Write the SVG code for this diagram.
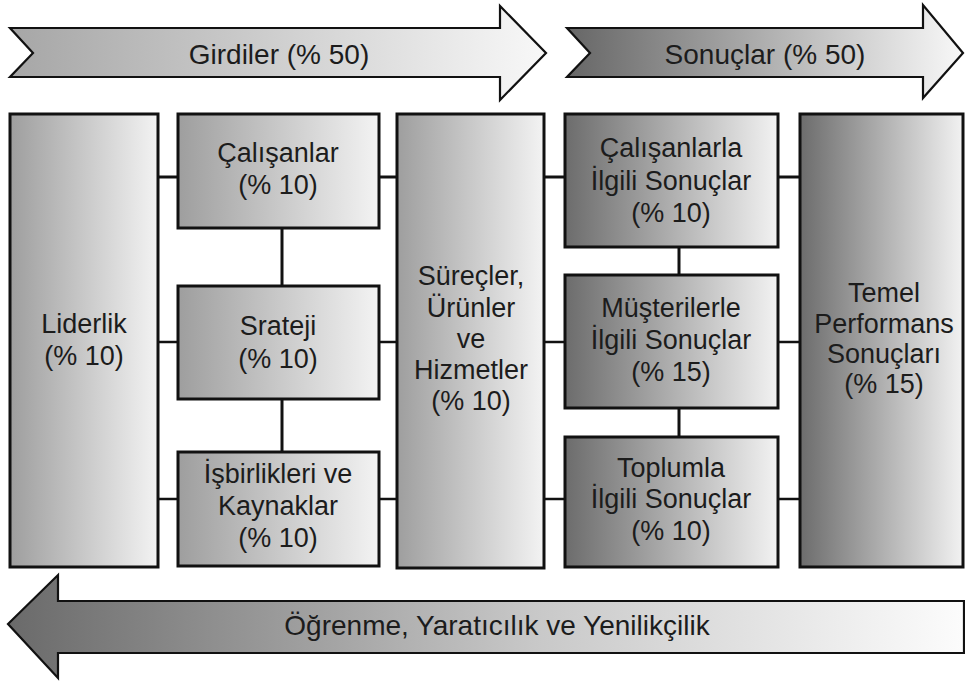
<svg xmlns="http://www.w3.org/2000/svg" width="965" height="683" viewBox="0 0 965 683">
<defs>
<linearGradient id="gLight" x1="0" y1="0" x2="1" y2="0">
<stop offset="0" stop-color="#9e9e9e"/>
<stop offset="1" stop-color="#f3f3f3"/>
</linearGradient>
<linearGradient id="gDark" x1="0" y1="0" x2="1" y2="0">
<stop offset="0" stop-color="#6c6c6c"/>
<stop offset="1" stop-color="#f2f2f2"/>
</linearGradient>
<linearGradient id="gArrowIn" x1="0" y1="0" x2="1" y2="0">
<stop offset="0" stop-color="#a6a6a6"/>
<stop offset="1" stop-color="#f8f8f8"/>
</linearGradient>
<linearGradient id="gArrowOut" x1="0" y1="0" x2="1" y2="0">
<stop offset="0" stop-color="#666666"/>
<stop offset="1" stop-color="#f8f8f8"/>
</linearGradient>
<linearGradient id="gArrowBack" x1="0" y1="0" x2="1" y2="0">
<stop offset="0" stop-color="#6a6a6a"/>
<stop offset="0.55" stop-color="#c8c8c8"/>
<stop offset="1" stop-color="#fcfcfc"/>
</linearGradient>
</defs>
<style>
.box{stroke:#111;stroke-width:3}
.arr{stroke:#111;stroke-width:2.2;stroke-linejoin:miter}
.t{font-family:"Liberation Sans",Arial,sans-serif;font-size:27px;fill:#1c1c1c;text-anchor:middle}
.ta{font-family:"Liberation Sans",Arial,sans-serif;font-size:28px;fill:#1c1c1c;text-anchor:middle}
.c{stroke:#111;stroke-width:3;fill:none}
.c2{stroke:#111;stroke-width:2.5;fill:none}
</style>
<rect width="965" height="683" fill="#ffffff"/>

<g id="arrow-girdiler">
<path class="arr" fill="url(#gArrowIn)" d="M10,28 L500,28 L500,6 L546,53 L500,100 L500,77 L10,77 L33,53 Z"/>
<text class="ta" x="279" y="64">Girdiler (% 50)</text>
</g>
<g id="arrow-sonuclar">
<path class="arr" fill="url(#gArrowOut)" d="M567,28 L923,28 L923,5 L963,53 L923,98 L923,77 L567,77 L590,53 Z"/>
<text class="ta" x="765" y="64">Sonuçlar (% 50)</text>
</g>
<g id="arrow-ogrenme">
<path class="arr" fill="url(#gArrowBack)" d="M8,624 L58,575 L58,601 L964,601 L964,653 L58,653 L58,678 Z"/>
<text class="ta" x="497" y="635">Öğrenme, Yaratıcılık ve Yenilikçilik</text>
</g>

<g id="connectors">
<line class="c" x1="158" y1="177" x2="178" y2="177"/>
<line class="c2" x1="158" y1="342" x2="178" y2="342"/>
<line class="c2" x1="158" y1="499" x2="178" y2="499"/>
<line class="c" x1="282" y1="228" x2="282" y2="286"/>
<line class="c" x1="282" y1="399" x2="282" y2="452"/>
<line class="c" x1="379" y1="177" x2="397" y2="177"/>
<line class="c2" x1="379" y1="342" x2="397" y2="342"/>
<line class="c2" x1="379" y1="499" x2="397" y2="499"/>
<line class="c" x1="544" y1="177" x2="565" y2="177"/>
<line class="c2" x1="544" y1="342" x2="565" y2="342"/>
<line class="c2" x1="544" y1="499" x2="565" y2="499"/>
<line class="c" x1="679" y1="247" x2="679" y2="274"/>
<line class="c" x1="679" y1="408" x2="679" y2="437"/>
<line class="c" x1="778" y1="177" x2="800" y2="177"/>
<line class="c2" x1="778" y1="342" x2="800" y2="342"/>
<line class="c2" x1="778" y1="499" x2="800" y2="499"/>
</g>

<g id="liderlik">
<rect class="box" x="10" y="114" width="148" height="453" fill="url(#gLight)"/>
<text class="t" x="84" y="333">Liderlik</text>
<text class="t" x="84" y="365">(% 10)</text>
</g>
<g id="calisanlar">
<rect class="box" x="178" y="114" width="201" height="114" fill="url(#gLight)"/>
<text class="t" x="278" y="162">Çalışanlar</text>
<text class="t" x="278" y="194">(% 10)</text>
</g>
<g id="strateji">
<rect class="box" x="178" y="286" width="201" height="113" fill="url(#gLight)"/>
<text class="t" x="278" y="335">Srateji</text>
<text class="t" x="278" y="368">(% 10)</text>
</g>
<g id="isbirlikleri">
<rect class="box" x="178" y="452" width="201" height="114" fill="url(#gLight)"/>
<text class="t" x="278" y="483">İşbirlikleri ve</text>
<text class="t" x="278" y="515">Kaynaklar</text>
<text class="t" x="278" y="547">(% 10)</text>
</g>
<g id="surecler">
<rect class="box" x="397" y="114" width="147" height="454" fill="url(#gLight)"/>
<text class="t" x="471" y="285">Süreçler,</text>
<text class="t" x="471" y="317">Ürünler</text>
<text class="t" x="471" y="348">ve</text>
<text class="t" x="471" y="379">Hizmetler</text>
<text class="t" x="471" y="410">(% 10)</text>
</g>
<g id="calisanlarla">
<rect class="box" x="565" y="114" width="213" height="133" fill="url(#gDark)"/>
<text class="t" x="671" y="157">Çalışanlarla</text>
<text class="t" x="671" y="190">İlgili Sonuçlar</text>
<text class="t" x="671" y="222">(% 10)</text>
</g>
<g id="musterilerle">
<rect class="box" x="565" y="275" width="213" height="133" fill="url(#gDark)"/>
<text class="t" x="671" y="317">Müşterilerle</text>
<text class="t" x="671" y="349">İlgili Sonuçlar</text>
<text class="t" x="671" y="381">(% 15)</text>
</g>
<g id="toplumla">
<rect class="box" x="565" y="437" width="213" height="130" fill="url(#gDark)"/>
<text class="t" x="671" y="477">Toplumla</text>
<text class="t" x="671" y="508">İlgili Sonuçlar</text>
<text class="t" x="671" y="540">(% 10)</text>
</g>
<g id="temel">
<rect class="box" x="800" y="114" width="163" height="453" fill="url(#gDark)"/>
<text class="t" x="884" y="302">Temel</text>
<text class="t" x="884" y="333">Performans</text>
<text class="t" x="884" y="363">Sonuçları</text>
<text class="t" x="884" y="393">(% 15)</text>
</g>
</svg>
